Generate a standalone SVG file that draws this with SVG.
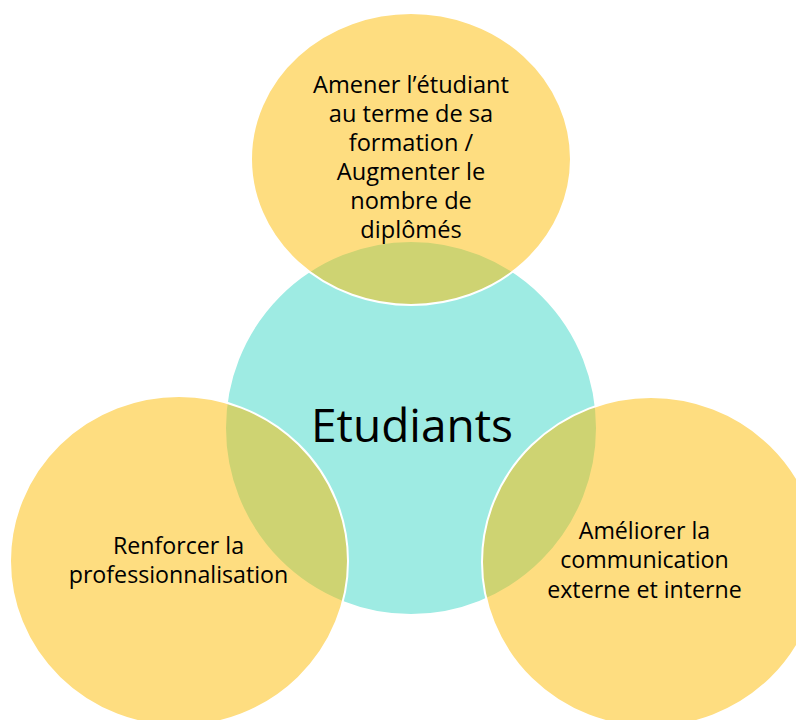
<svg xmlns="http://www.w3.org/2000/svg" width="796" height="720" viewBox="0 0 796 720">
<style>
.y{fill:#FDBC02;fill-opacity:0.5;stroke:#FFFFFF;stroke-width:2}
.c{fill:#3DD7C7;fill-opacity:0.5;stroke:#FFFFFF;stroke-width:2}
text{font-family:"Open Sans",Lato,"Liberation Sans",sans-serif;fill:#000;text-anchor:middle}
.s{font-size:23.6px}
.m{font-size:23.2px}
.b{font-size:46px}
</style>
<rect width="796" height="720" fill="#FFFFFF"/>
<g id="etudiants">
<ellipse class="c" cx="411" cy="428" rx="186" ry="187"/>
<text class="b" x="412" y="442">Etudiants</text>
</g>
<g id="diplomes">
<ellipse class="y" cx="411" cy="159" rx="160" ry="146"/>
<text class="s" x="411" y="93">Amener l’étudiant</text>
<text class="s" x="411" y="122">au terme de sa</text>
<text class="s" x="411" y="151">formation /</text>
<text class="s" x="411" y="180">Augmenter le</text>
<text class="s" x="411" y="209">nombre de</text>
<text class="s" x="411" y="238">diplômés</text>
</g>
<g id="communication">
<ellipse class="y" cx="651" cy="562" rx="169" ry="165"/>
<text class="m" x="644.5" y="539">Améliorer la</text>
<text class="m" x="644.5" y="568">communication</text>
<text class="m" x="644.5" y="598">externe et interne</text>
</g>
<g id="professionnalisation">
<ellipse class="y" cx="179" cy="561" rx="169" ry="165"/>
<text class="m" x="178.5" y="554">Renforcer la</text>
<text class="m" x="178.5" y="583">professionnalisation</text>
</g>
</svg>
